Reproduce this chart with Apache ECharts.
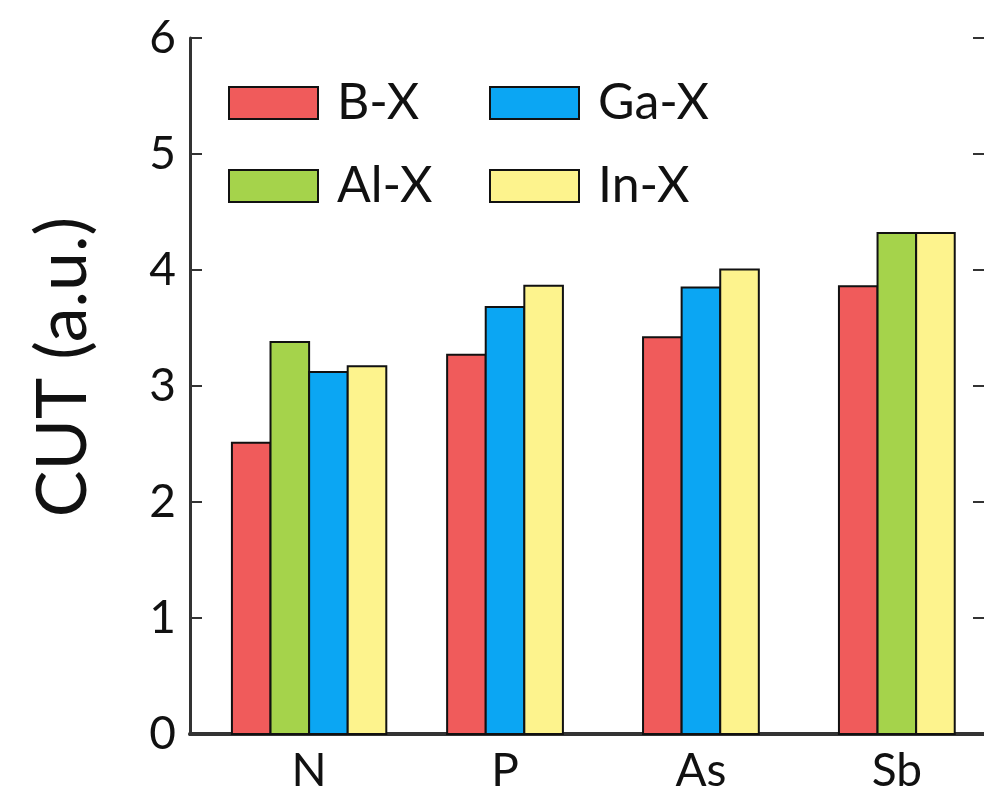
<!DOCTYPE html>
<html>
<head>
<meta charset="utf-8">
<script src="https://cdn.jsdelivr.net/npm/echarts@6/dist/echarts.min.js"></script>
<style>html,body{margin:0;padding:0;background:#fff}#c{width:984px;height:805px}</style>
</head>
<body>
<div id="c"></div>
<script>
var categories = ['N', 'P', 'As', 'Sb'];
var seriesNames = ['B-X', 'Al-X', 'Ga-X', 'In-X'];
var bX  = [2.51, 3.27, 3.42, 3.86];
var alX = [3.38, null, null, 4.32];
var gaX = [3.12, 3.68, 3.85, null];
var inX = [3.17, 3.865, 4.005, 4.32];
var yTicks = [0, 1, 2, 3, 4, 5, 6];

var allValues = [bX, alX, gaX, inX];
var colors = ['#F05B5B', '#A5D34B', '#0BA6F3', '#FDF38D'];
var FONT = 'Lato, "Open Sans", sans-serif';
var BW = 0.197; // bar width in x-axis units

function makeRender(sIdx) {
  return function (params, api) {
    var ci = api.value(0);
    var v = api.value(1);
    var present = [];
    for (var s = 0; s < allValues.length; s++) {
      if (allValues[s][ci] != null) present.push(s);
    }
    var k = present.indexOf(sIdx);
    var n = present.length;
    var center = ci + 1;
    var x0 = center + (k - n / 2) * BW;
    var x1 = x0 + BW;
    var p0 = api.coord([x0, v]);
    var p1 = api.coord([x1, 0]);
    return {
      type: 'rect',
      shape: { x: p0[0], y: p0[1], width: p1[0] - p0[0], height: p1[1] - p0[1] },
      style: { fill: colors[sIdx], stroke: '#111', lineWidth: 2 }
    };
  };
}

var series = allValues.map(function (arr, sIdx) {
  var d = [];
  arr.forEach(function (v, i) { if (v != null) d.push([i, v]); });
  return {
    type: 'custom',
    name: seriesNames[sIdx],
    xAxisIndex: 0, yAxisIndex: 0,
    renderItem: makeRender(sIdx),
    itemStyle: { color: colors[sIdx], borderColor: '#111', borderWidth: 2 },
    data: d,
    encode: { x: 0, y: 1 },
    silent: true
  };
});

function legendData(names) {
  return names.map(function (nm) {
    var i = seriesNames.indexOf(nm);
    return { name: nm, icon: 'rect', itemStyle: { color: colors[i], borderColor: '#111', borderWidth: 2 } };
  });
}

var legendCommon = {
  orient: 'vertical', top: 78, padding: 0,
  itemWidth: 89, itemHeight: 32, itemGap: 33,
  textStyle: { fontSize: 50, fontFamily: FONT, color: '#111', padding: [0, 0, 0, 14] },
  selectedMode: false
};

var chart = echarts.init(document.getElementById('c'), null, { renderer: 'canvas' });
chart.setOption({
  animation: false,
  backgroundColor: '#fff',
  grid: { left: 190, top: 38, right: -1, bottom: 71, containLabel: false, outerBoundsMode: 'none' },
  legend: [
    Object.assign({}, legendCommon, { left: 228, data: legendData(['B-X', 'Al-X']) }),
    Object.assign({}, legendCommon, { left: 489, data: legendData(['Ga-X', 'In-X']) })
  ],
  xAxis: [
    {
      type: 'value', min: 0.392, max: 4.45,
      splitLine: { show: false },
      axisLine: { show: true, lineStyle: { color: '#333', width: 3 } },
      axisTick: { show: false },
      axisLabel: {
        customValues: [1, 2, 3, 4],
        formatter: function (v) { return categories[Math.round(v) - 1] || ''; },
        fontSize: 46, fontFamily: FONT, color: '#111', margin: 14
      }
    },
    {
      type: 'value', position: 'top', min: 0.392, max: 4.45,
      splitLine: { show: false },
      axisLine: { show: true, lineStyle: { color: '#333', width: 4 } },
      axisTick: { show: false }, axisLabel: { show: false }
    }
  ],
  yAxis: [
    {
      type: 'value', min: 0, max: 6, interval: 1,
      splitLine: { show: false },
      axisLine: { show: true, lineStyle: { color: '#333', width: 3 } },
      axisTick: { show: true, inside: true, length: 12, lineStyle: { color: '#333', width: 2 } },
      axisLabel: {
        fontSize: 46, fontFamily: FONT, color: '#111', margin: 14,
        formatter: function (v) { return yTicks.indexOf(v) >= 0 ? String(v) : ''; }
      },
      name: 'CUT (a.u.)', nameLocation: 'middle', nameGap: 92, nameRotate: 90,
      nameTextStyle: { fontSize: 70, fontFamily: FONT, color: '#111', padding: [0, 0, 0, 38] }
    },
    {
      type: 'value', position: 'right', min: 0, max: 6, interval: 1,
      splitLine: { show: false },
      axisLine: { show: true, lineStyle: { color: '#333', width: 3 } },
      axisTick: { show: true, inside: true, length: 12, lineStyle: { color: '#333', width: 2 } },
      axisLabel: { show: false }
    }
  ],
  series: series
});
</script>
</body>
</html>
